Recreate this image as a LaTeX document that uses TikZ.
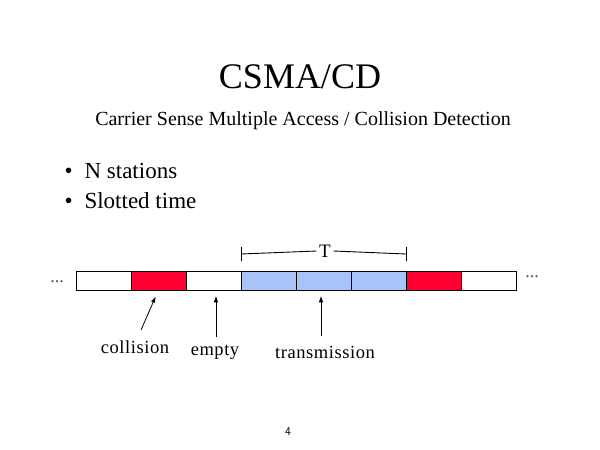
\documentclass[tikz,border=0pt]{standalone}
\usepackage{fontspec}
\setmainfont{Liberation Serif}
\newfontfamily\spaced[LetterSpace=3]{Liberation Serif}
\usepackage{tikz}
\usetikzlibrary{arrows.meta}
\definecolor{slotred}{RGB}{255,0,51}
\definecolor{slotblue}{RGB}{166,196,250}

\begin{document}
\begin{tikzpicture}[
x=1pt, y=-1pt,
slot/.style={draw=black, line width=1pt, minimum width=55pt, minimum height=19pt,
  inner sep=0pt, outer sep=0pt, fill=white},
busy/.style={slot, fill=slotred},
sent/.style={slot, fill=slotblue},
label/.style={font=\spaced\fontsize{18.5}{20}\selectfont, inner sep=1pt},
arrow/.style={-{Latex[length=2.2mm, width=1.6mm]}, line width=0.8pt},
bracket/.style={line width=0.9pt}
]
\useasboundingbox (0,0) rectangle (600,450);

\node[font=\fontsize{36}{40}\selectfont] (title) at (300,77) {CSMA/CD};
\node[font=\fontsize{20}{24}\selectfont] (subtitle) at (303,121)
  {Carrier Sense Multiple Access / Collision Detection};
\node[font=\fontsize{23}{26}\selectfont, anchor=west] (b1) at (61,171) {\textbullet\hspace{12pt}N stations};
\node[font=\fontsize{23}{26}\selectfont, anchor=west] (b2) at (61,201) {\textbullet\hspace{12pt}Slotted time};

% slots
\node[slot] (s1) at (103.5,280.5) {};
\node[busy] (s2) at (158.5,280.5) {};
\node[slot] (s3) at (213.5,280.5) {};
\node[sent] (s4) at (268.5,280.5) {};
\node[sent] (s5) at (323.5,280.5) {};
\node[sent] (s6) at (378.5,280.5) {};
\node[busy] (s7) at (433.5,280.5) {};
\node[slot] (s8) at (488.5,280.5) {};
\node[font=\fontsize{18}{20}\selectfont, text=black!70] (ldots) at (57,282) {...};
\node[font=\fontsize{18}{20}\selectfont, text=black!70] (rdots) at (532,277) {...};

% period T
\node[font=\fontsize{19}{20}\selectfont, inner sep=2.5pt] (T) at (325,251) {T};
\coordinate (tl) at (241,254);
\coordinate (tr) at (406,254);
\draw[bracket] (tl) -- (T.west);
\draw[bracket] (T.east) -- (tr);
\draw[bracket] (tl) ++(0,-7) -- ++(0,14);
\draw[bracket] (tr) ++(0,-7) -- ++(0,14);

% labels
\node[label] (collision) at (135,347) {collision};
\node[label] (empty) at (215,352) {empty};
\node[label] (transmission) at (325,352) {transmission};
\coordinate (c1) at (141,330);
\coordinate (c2) at (216,337);
\coordinate (c3) at (321,336);
\draw[arrow, shorten >=7pt] (c1) -- (s2.south);
\draw[arrow, shorten >=6pt] (c2) -- (s3.south -| c2);
\draw[arrow, shorten >=6pt] (c3) -- (s5.south -| c3);

\node[font=\sffamily\fontsize{12}{14}\selectfont] (page) at (288,432) {4};
\end{tikzpicture}
\end{document}
